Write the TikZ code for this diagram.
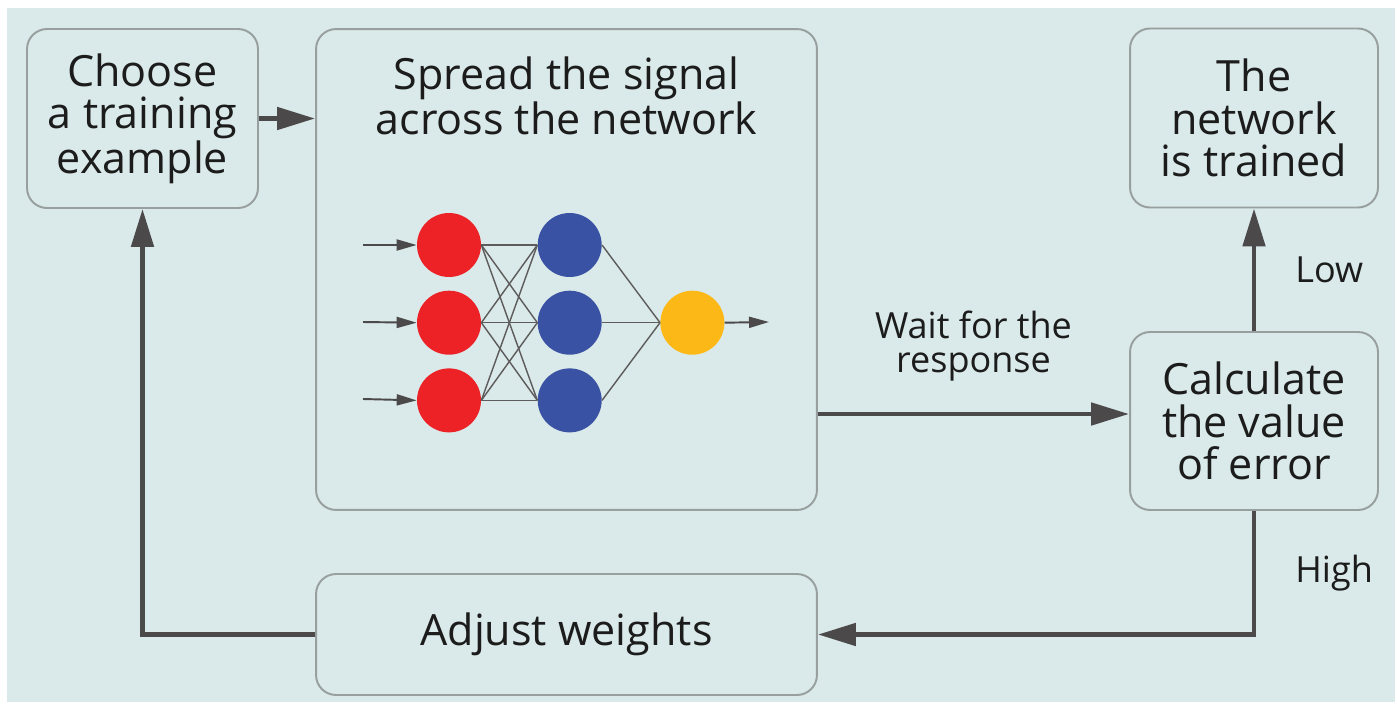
\documentclass[tikz,border=0pt]{standalone}
\usepackage{fontspec}
\setmainfont{Open Sans}
\usepackage{tikz}
\usetikzlibrary{arrows.meta}
\usetikzlibrary{positioning}
\definecolor{bgcol}{HTML}{DAE9E9}
\definecolor{boxline}{HTML}{979F9F}
\definecolor{flowcol}{HTML}{4B4949}
\definecolor{inkcol}{HTML}{1C1C1C}
\definecolor{redn}{HTML}{EC2227}
\definecolor{bluen}{HTML}{3A52A3}
\definecolor{yellown}{HTML}{FCB816}

\begin{document}
\begin{tikzpicture}[x=0.02cm,y=-0.02cm,
                    box/.style={rectangle,rounded corners=0.4cm,draw=boxline,line width=1.1pt,fill=bgcol,
                                text=inkcol,align=center,font=\fontsize{24.5}{24}\selectfont},
                    flow/.style={draw=flowcol,line width=2.8pt,-{Triangle[length=0.76cm,width=0.44cm]}},
                    small/.style={text=inkcol,align=center,font=\fontsize{20.5}{19}\selectfont},
                    neuron/.style={circle,minimum size=1.28cm,inner sep=0pt},
                    link/.style={draw=flowcol!90,line width=0.8pt},
                    feed/.style={draw=flowcol,line width=1.1pt,-{Triangle[length=0.4cm,width=0.22cm]}}]

  \useasboundingbox (0,0) rectangle (1398,706);
  \fill[white] (0,0) rectangle (1398,706);
  \fill[bgcol] (7,8) rectangle (1395,702);

  \node[box,minimum width=4.62cm,minimum height=3.58cm] (choose) at (142.5,118.5) {Choose\\a training\\example};
  \node[box,minimum width=10.02cm,minimum height=9.62cm] (spread) at (566.5,269.5) {};
  \node[box,draw=none,fill=none,anchor=north] (spreadtxt) at ([yshift=-0.44cm]spread.north) {Spread the signal\\across the network};
  \node[box,minimum width=4.96cm,minimum height=3.58cm] (trained) at (1254,118) {The\\network\\is trained};
  \node[box,minimum width=4.96cm,minimum height=3.56cm] (calc) at (1254,421) {Calculate\\the value\\of error};
  \node[box,minimum width=10.02cm,minimum height=2.42cm] (adjust) at (566.5,634.5) {Adjust weights};

  \node[neuron,fill=redn] (r1) at (449,245) {};
  \node[neuron,fill=redn] (r2) [below=0.26cm of r1] {};
  \node[neuron,fill=redn] (r3) [below=0.26cm of r2] {};
  \node[neuron,fill=bluen] (b1) [right=1.12cm of r1] {};
  \node[neuron,fill=bluen] (b2) [right=1.12cm of r2] {};
  \node[neuron,fill=bluen] (b3) [right=1.12cm of r3] {};
  \node[neuron,fill=yellown] (o1) [right=1.16cm of b2] {};

  \coordinate (in1) at (363,245);
  \coordinate (in2) at (363,322);
  \coordinate (in3) at (363,399);
  \coordinate (out) at (769,322);

  \path[every edge/.style=feed]
    (in1) edge (r1.west)
    (in2) edge (r2.west)
    (in3) edge (r3.west)
    (o1.east) edge (out);

  \path[every edge/.style=link]
    (r1.east) edge (b1.west)
              edge (b2.west)
              edge (b3.west)
    (r2.east) edge (b1.west)
              edge (b2.west)
              edge (b3.west)
    (r3.east) edge (b1.west)
              edge (b2.west)
              edge (b3.west)
    (b1.east) edge (o1.west)
    (b2.east) edge (o1.west)
    (b3.east) edge (o1.west);

  \draw[flow] (choose.east) -- (choose.east -| spread.west);
  \draw[flow] ([yshift=0.14cm]spread.east |- calc.west) -- ([yshift=0.14cm]calc.west)
    node[small,midway,above=0.5cm] {Wait for the\\response};
  \draw[flow] (calc.north) -- (trained.south)
    node[small,midway,right=0.66cm] {Low};
  \draw[flow] (calc.south) |- (adjust.east)
    node[small,pos=0.25,right=0.66cm] {High};
  \draw[flow] (adjust.west) -| (choose.south);
\end{tikzpicture}
\end{document}
